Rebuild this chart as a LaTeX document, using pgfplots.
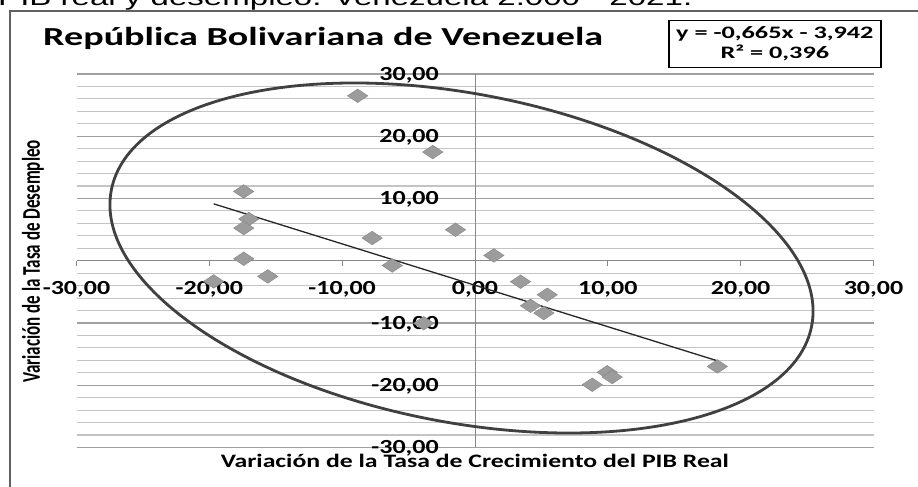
\documentclass[border=0pt]{standalone}
\usepackage{pgfplots}
\usepackage{pgfplotstable}
\pgfplotsset{compat=1.18}
\usepackage{fontspec}
\setmainfont{Carlito}
\newfontfamily\capfont{Liberation Sans}
\definecolor{gmaj}{HTML}{A0A0A0}
\definecolor{gmin}{HTML}{C4C4C4}
\definecolor{axg}{HTML}{888888}
\definecolor{mk}{HTML}{9C9C9C}
\definecolor{ell}{HTML}{404040}
\newcommand{\tl}[1]{\scalebox{1.3}[1]{#1}}

\pgfplotstableread{
x y
-8.83 26.50
-3.18 17.46
-17.41 11.13
-17.03 6.70
-17.41 5.25
-7.74 3.65
-1.47 4.98
-17.41 0.32
-6.23 -0.76
-15.60 -2.52
-19.67 -3.33
1.42 0.85
3.43 -3.37
5.44 -5.46
4.18 -7.23
5.18 -8.40
-3.86 -10.04
8.83 -19.92
9.95 -17.91
10.33 -18.68
18.24 -16.98
}\datatable

\begin{document}
\begin{tikzpicture}
\path[use as bounding box] (0pt,0pt) rectangle (918pt,487pt);
\clip (0pt,0pt) rectangle (918pt,487pt);
\fill[white] (0pt,0pt) rectangle (918pt,487pt);
\draw[black!62, line width=2pt] (9.5pt,-20pt) -- (9.5pt,475.5pt) -- (940pt,475.5pt);
\node[anchor=base west, inner sep=0pt] at (-2pt,481.5pt)
  {\scalebox{1.45}[1]{\fontsize{22.8}{22.8}\selectfont\capfont PIB real y desempleo. Venezuela 2.000 - 2021.}};
\begin{axis}[
  at={(76.5pt,39.5pt)}, anchor=south west,
  scale only axis, width=797pt, height=373.5pt,
  xmin=-30, xmax=30, ymin=-30, ymax=30,
  axis lines=middle,
  axis line style={-, draw=axg, line width=1pt},
  hide obscured x ticks=false, hide obscured y ticks=false,
  xtick={-30,-20,-10,0,10,20,30},
  xticklabels={{\tl{-30,00}},{\tl{-20,00}},{\tl{-10,00}},{\tl{0,00}},{\tl{10,00}},{\tl{20,00}},{\tl{30,00}}},
  ytick={-30,-20,-10,10,20,30},
  yticklabels={{\tl{-30,00}},{\tl{-20,00}},{\tl{-10,00}},{\tl{10,00}},{\tl{20,00}},{\tl{30,00}}},
  minor ytick={-28,-26,-24,-22,-18,-16,-14,-12,-8,-6,-4,-2,2,4,6,8,12,14,16,18,22,24,26,28},
  ymajorgrids, yminorgrids,
  major grid style={draw=gmaj, line width=1.3pt},
  minor grid style={draw=gmin, line width=1.1pt},
  xtick style={draw=axg, line width=1pt},
  ytick style={draw=none},
  minor tick style={draw=none},
  tick align=outside, major tick length=5pt,
  x tick label style={font=\fontsize{20}{20}\selectfont\bfseries, anchor=base, inner sep=0pt, yshift=-29pt},
  y tick label style={font=\fontsize{20}{20}\selectfont\bfseries, anchor=base east, inner sep=0pt, xshift=-31pt, yshift=-6.3pt},
  clip=false,
]
\addplot[only marks, mark=diamond*, mark size=6.8pt,
  mark options={fill=mk, draw=mk!85!black, line width=0.4pt, xscale=2}]
  table[x=x, y=y] {\datatable};
\addplot[no marks, draw=black!85, line width=1.3pt] coordinates {(-19.67,9.139) (18.24,-16.071)};
\end{axis}
\draw[ell, line width=2.8pt, rotate around={-11:(461.5pt,229pt)}] (461.5pt,229pt) ellipse [x radius=356.7pt, y radius=164.2pt];
\node[draw=black, line width=1.5pt, fill=white, minimum width=212pt, minimum height=47pt, inner sep=0pt] at (774.85pt,442.8pt) {};
\node[anchor=base, inner sep=0pt] at (774.85pt,448.7pt)
  {\scalebox{1.5}[1]{\fontsize{17.5}{17.5}\selectfont\bfseries y = -0,665x - 3,942}};
\node[anchor=base, inner sep=0pt] at (774.85pt,428.7pt)
  {\scalebox{1.5}[1]{\fontsize{17.5}{17.5}\selectfont\bfseries R² = 0,396}};
\node[anchor=base west, inner sep=0pt] at (43pt,441.3pt)
  {\scalebox{1.466}[1]{\fontsize{26}{26}\selectfont\bfseries República Bolivariana de Venezuela}};
\node[anchor=base, inner sep=0pt] at (474.85pt,19.7pt)
  {\scalebox{1.355}[1]{\fontsize{19}{19}\selectfont\bfseries Variación de la Tasa de Crecimiento del PIB Real}};
\node[rotate=90, inner sep=0pt] at (33pt,225.5pt)
  {\scalebox{1}[1.5]{\fontsize{17}{17}\selectfont\bfseries Variación de la Tasa de Desempleo}};
\end{tikzpicture}
\end{document}
